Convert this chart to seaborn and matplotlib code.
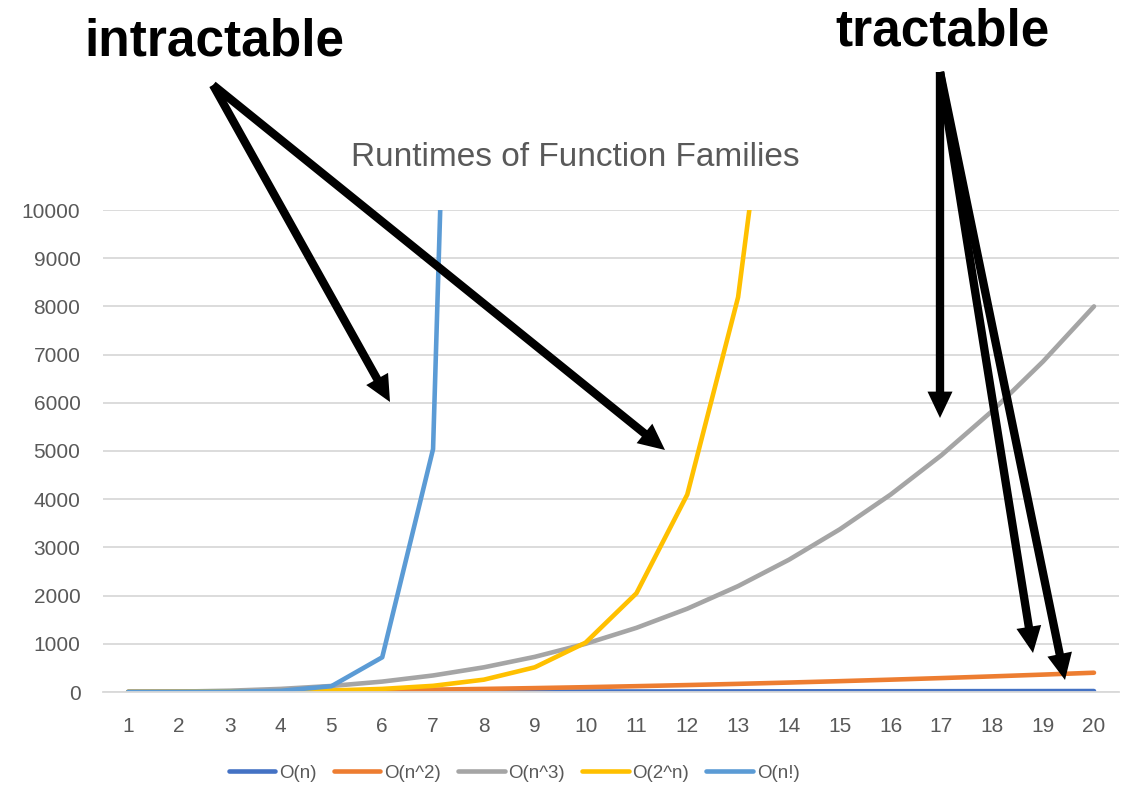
import matplotlib
matplotlib.use("Agg")
import matplotlib.pyplot as plt
import pandas as pd
import seaborn as sns

# dados
n_vals = list(range(1, 21))
o_n = [1, 2, 3, 4, 5, 6, 7, 8, 9, 10, 11, 12, 13, 14, 15, 16, 17, 18, 19, 20]
o_n2 = [1, 4, 9, 16, 25, 36, 49, 64, 81, 100, 121, 144, 169, 196, 225, 256, 289, 324, 361, 400]
o_n3 = [1, 8, 27, 64, 125, 216, 343, 512, 729, 1000, 1331, 1728, 2197, 2744, 3375, 4096,
        4913, 5832, 6859, 8000]
o_2n = [2, 4, 8, 16, 32, 64, 128, 256, 512, 1024, 2048, 4096, 8192, 16384, 32768, 65536,
        131072, 262144, 524288, 1048576]
o_fact = [1, 2, 6, 24, 120, 720, 5040, 40320, 362880, 3628800, 39916800, 479001600,
          6227020800, 87178291200, 1307674368000, 20922789888000, 355687428096000,
          6402373705728000, 121645100408832000, 2432902008176640000]
series_names = ["O(n)", "O(n^2)", "O(n^3)", "O(2^n)", "O(n!)"]
series_vals = [o_n, o_n2, o_n3, o_2n, o_fact]
y_ticks = [0, 1000, 2000, 3000, 4000, 5000, 6000, 7000, 8000, 9000, 10000]

cores = ["#4472C4", "#ED7D31", "#A5A5A5", "#FFC000", "#5B9BD5"]
GRAY_TXT = "#595959"
GRID = "#D9D9D9"

df = pd.concat([pd.DataFrame({"n": n_vals, "valor": v, "serie": nome})
                for nome, v in zip(series_names, series_vals)], ignore_index=True)
df["valor"] = df["valor"].astype(float)

sns.set_style("white")
plt.rcParams["font.family"] = ["Liberation Sans", "DejaVu Sans"]

W, H = 1128, 789
fig = plt.figure(figsize=(W / 100, H / 100), dpi=100)
ax = fig.add_axes([102.6 / W, 1 - 692 / H, (1119.4 - 102.6) / W, (692 - 210) / H])

sns.lineplot(data=df, x="n", y="valor", hue="serie", hue_order=series_names,
             palette=cores, linewidth=3.3, ax=ax, solid_capstyle="round",
             solid_joinstyle="round", legend=True)

ax.set_xlim(0.5, 20.5)
ax.set_ylim(0, 10000)
ax.set_xticks(n_vals)
ax.set_yticks(y_ticks)
ax.set_xlabel("")
ax.set_ylabel("")
ax.yaxis.grid(True, color=GRID, linewidth=1.3)
ax.set_axisbelow(True)
for s in ["top", "right", "left"]:
    ax.spines[s].set_visible(False)
ax.spines["bottom"].set_color(GRID)
ax.spines["bottom"].set_linewidth(1.3)
ax.tick_params(axis="both", length=0, labelsize=15, labelcolor=GRAY_TXT)
ax.tick_params(axis="x", pad=18)
ax.tick_params(axis="y", pad=16)

handles, labels = ax.get_legend_handles_labels()
ax.legend(handles, labels, loc="center", bbox_to_anchor=(514 / W, 1 - 773 / H),
          bbox_transform=fig.transFigure, ncol=5, frameon=False, fontsize=13.5,
          labelcolor=GRAY_TXT, handlelength=2.5, handletextpad=0.2, columnspacing=0.9)

fig.text(575 / W, 1 - 157 / H, "Runtimes of Function Families", ha="center", va="center",
         fontsize=24, color=GRAY_TXT)

# anotacoes
fig.text(214 / W, 1 - 56 / H, "intractable", ha="center", va="baseline",
         fontsize=37, fontweight="bold", color="black")
fig.text(942 / W, 1 - 45 / H, "tractable", ha="center", va="baseline",
         fontsize=37, fontweight="bold", color="black")

setas = [((213, 85), (390, 402)), ((213, 85), (665, 450)),
         ((940, 72), (940, 418)), ((940, 72), (1033, 653)), ((940, 72), (1065, 680))]
for (x0, y0), (x1, y1) in setas:
    ax.annotate("", xy=(x1, H - y1), xytext=(x0, H - y0), xycoords="figure pixels",
                textcoords="figure pixels", annotation_clip=False,
                arrowprops=dict(arrowstyle="simple,head_length=1.9,head_width=1.8,tail_width=0.6",
                                mutation_scale=10, fc="black", ec="none", lw=0,
                                shrinkA=0, shrinkB=0))

plt.savefig("out.png", dpi=100, facecolor="white")
plt.close()
